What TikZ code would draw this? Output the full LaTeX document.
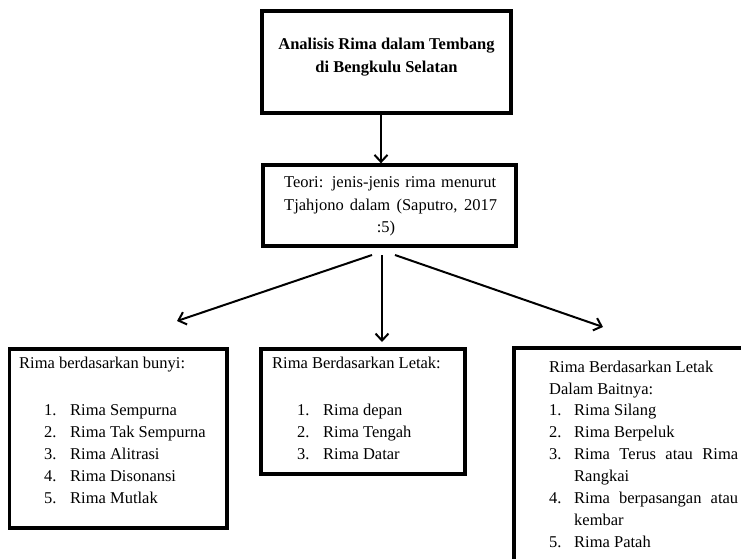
\documentclass[tikz,border=0pt]{standalone}
\usepackage{fontspec}
\setmainfont{Liberation Serif}
\usetikzlibrary{arrows.meta}
\begin{document}
\begin{tikzpicture}[x=1pt,y=-1pt,
  box/.style={draw, rectangle, line width=3.3pt, inner sep=0pt},
  txt/.style={anchor=base west, inner sep=0pt, font=\fontsize{16.5}{20}\selectfont},
  ctxt/.style={anchor=base, inner sep=0pt, font=\fontsize{16.5}{20}\selectfont},
  arr/.style={line width=2pt, -{Straight Barb[length=7pt,width=13pt,line width=2pt]}}
]
\useasboundingbox (0,0) rectangle (741,558);
\clip (0,0) rectangle (741,558);

% boxes
\node[box, line width=4pt, minimum width=249pt, minimum height=101.5pt] (title) at (386.5,61.75) {};
\node[box, minimum width=253pt, minimum height=81pt] (teori) at (389.5,205.5) {};
\node[box, minimum width=217.5pt, minimum height=179pt] (bunyi) at (118.25,438.5) {};
\node[box, minimum width=204pt, minimum height=125pt] (letak) at (363,411.5) {};
\node[box, minimum width=260pt, minimum height=260pt] (bait) at (644,478) {};

% title text
\node[ctxt, font=\fontsize{16.5}{20}\bfseries] (t1) at (386.5,49.5) {Analisis Rima dalam Tembang};
\node[ctxt, font=\fontsize{16.5}{20}\bfseries] (t2) at (386.5,72) {di Bengkulu Selatan};

% teori text
\node[txt] (r1) at (284,187) {\makebox[212pt][s]{Teori: jenis-jenis rima menurut}};
\node[txt] (r2) at (284,210) {\makebox[213pt][s]{Tjahjono dalam (Saputro, 2017}};
\node[ctxt] (r3) at (386,232) {:5)};

% bunyi
\node[txt] (b0) at (19,368.5) {Rima berdasarkan bunyi:};
\node[txt] (b1n) at (44,415.5) {1.};
\node[txt] (b1) at (70,415.5) {Rima Sempurna};
\node[txt] (b2n) at (44,437.5) {2.};
\node[txt] (b2) at (70,437.5) {Rima Tak Sempurna};
\node[txt] (b3n) at (44,459.5) {3.};
\node[txt] (b3) at (70,459.5) {Rima Alitrasi};
\node[txt] (b4n) at (44,481.5) {4.};
\node[txt] (b4) at (70,481.5) {Rima Disonansi};
\node[txt] (b5n) at (44,503.5) {5.};
\node[txt] (b5) at (70,503.5) {Rima Mutlak};

% letak
\node[txt] (l0) at (272,368.5) {Rima Berdasarkan Letak:};
\node[txt] (l1n) at (297,415.5) {1.};
\node[txt] (l1) at (323,415.5) {Rima depan};
\node[txt] (l2n) at (297,437.5) {2.};
\node[txt] (l2) at (323,437.5) {Rima Tengah};
\node[txt] (l3n) at (297,459.5) {3.};
\node[txt] (l3) at (323,459.5) {Rima Datar};

% bait
\node[txt] (s0) at (549,372) {Rima Berdasarkan Letak};
\node[txt] (s0b) at (549,394) {Dalam Baitnya:};
\node[txt] (s1n) at (549,415.5) {1.};
\node[txt] (s1) at (574,415.5) {Rima Silang};
\node[txt] (s2n) at (549,437.5) {2.};
\node[txt] (s2) at (574,437.5) {Rima Berpeluk};
\node[txt] (s3n) at (549,459.5) {3.};
\node[txt] (s3) at (574,459.5) {\makebox[164pt][s]{Rima Terus atau Rima}};
\node[txt] (s3b) at (574,481.5) {Rangkai};
\node[txt] (s4n) at (549,503.5) {4.};
\node[txt] (s4) at (574,503.5) {\makebox[164pt][s]{Rima berpasangan atau}};
\node[txt] (s4b) at (574,525.5) {kembar};
\node[txt] (s5n) at (549,547.5) {5.};
\node[txt] (s5) at (574,547.5) {Rima Patah};

% connectors
\coordinate (ax) at (381,0);
\draw[arr] (title.south -| ax) -- (teori.north -| ax);

\coordinate (sL) at (372,255);
\coordinate (sM) at (382,255);
\coordinate (sR) at (395,255);
\coordinate (eL) at (177,321);
\coordinate (eM) at (382,342);
\coordinate (eR) at (603,327);
\draw[arr] (sL) -- (eL);
\draw[arr] (sM) -- (eM);
\draw[arr] (sR) -- (eR);
\end{tikzpicture}
\end{document}
